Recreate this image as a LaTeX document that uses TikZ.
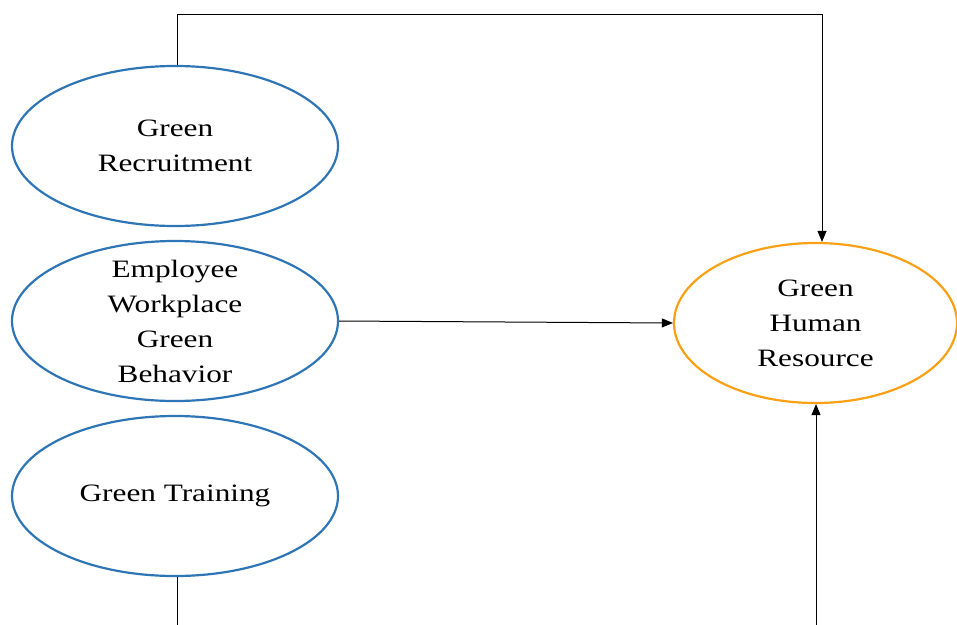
\documentclass[tikz,border=0pt]{standalone}
\usepackage{fontspec}
\setmainfont{Liberation Serif}[FakeStretch=1.25]
\usetikzlibrary{shapes.geometric,arrows.meta}
\definecolor{eblue}{RGB}{46,117,182}
\definecolor{eorange}{RGB}{250,160,20}
\tikzset{
  oval/.style={ellipse, draw=eblue, line width=2.2pt, inner xsep=0pt, inner ysep=-20pt,
    minimum width=326pt, minimum height=160pt, align=center,
    font=\fontsize{25}{35}\selectfont},
  ovalo/.style={oval, draw=eorange, minimum width=283pt},
  conn/.style={draw=black, line width=1pt},
  arr/.style={conn, -{Triangle[length=11pt,width=9pt]}}
}
\begin{document}
\begin{tikzpicture}[x=1pt,y=-1pt]
\useasboundingbox (0,0) rectangle (957,624);
\node[oval] (rec) at (175,146) {Green\\Recruitment};
\node[oval] (emp) at (175,321) {Employee\\Workplace\\Green\\Behavior};
\node[oval] (tra) at (175,496) {Green Training};
\node[ovalo] (ghr) at (815.5,323) {Green\\Human\\Resource};
\coordinate (t1) at (177,14);
\coordinate (t2) at (822,14);
\coordinate (b1) at (177,626);
\coordinate (b2) at (816,626);
\draw[arr] (rec.north -| t1) -- (t1) -- (t2) -- (t2 |- ghr.north);
\draw[arr] (emp.east) -- (ghr.west);
\draw[conn] (tra.south -| b1) -- (b1);
\draw[arr] (b2) -- (b2 |- ghr.south);
\end{tikzpicture}
\end{document}
